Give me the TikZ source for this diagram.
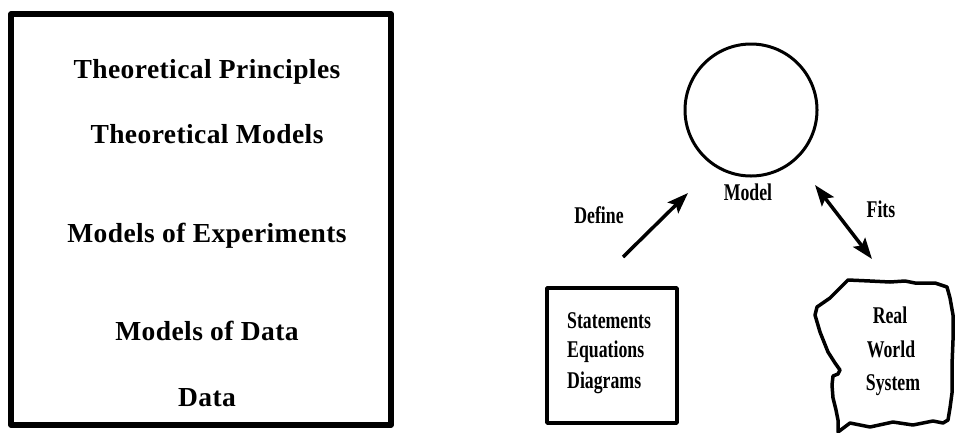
\documentclass[tikz,border=0pt]{standalone}
\usepackage{fontspec}
\setmainfont{Liberation Serif}
\newfontfamily\widebold{Liberation Serif}[LetterSpace=1.5]
\newfontfamily\narrowbold{Liberation Serif}[FakeStretch=0.74]
\usetikzlibrary{arrows.meta}

\tikzset{
  levellabel/.style={font=\widebold\bfseries\fontsize{27.5}{32}\selectfont, anchor=base, inner sep=0pt},
  smalllabel/.style={font=\narrowbold\bfseries\fontsize{24}{28}\selectfont, anchor=base, inner sep=0pt},
  heavyframe/.style={draw, line width=5.5pt, inner sep=0pt},
  thinframe/.style={draw, line width=3.5pt, inner sep=0pt},
  link/.style={line width=3.5pt, -{Stealth[length=21pt,width=15pt,inset=4pt]}},
  twoway/.style={line width=3.5pt, {Stealth[length=21pt,width=15pt,inset=4pt]}-{Stealth[length=21pt,width=15pt,inset=4pt]}},
}

\begin{document}
\begin{tikzpicture}[x=1pt, y=-1pt, line join=round]
\useasboundingbox (0,0) rectangle (955,432);

% hierarchy of models
\node[heavyframe, minimum width=380pt, minimum height=411pt] (hierarchy) at (201,219.5) {};
\node[levellabel] (principles) at (207,78) {Theoretical Principles};
\node[levellabel] (theomodels) at (207,143) {Theoretical Models};
\node[levellabel] (experiments) at (207,242) {Models of Experiments};
\node[levellabel] (datamodels) at (207,340) {Models of Data};
\node[levellabel] (data) at (207,406) {Data};

% model and its relations
\node[draw, circle, line width=3pt, minimum size=132pt, inner sep=0pt] (model) at (751,110) {};
\node[smalllabel] (modellabel) at (748,200) {Model};

\node[thinframe, minimum width=130pt, minimum height=135pt] (sed) at (612,355.5) {};
\node[smalllabel, anchor=base west] (statements) at (567,328) {Statements};
\node[smalllabel, anchor=base west] (equations) at (567,357) {Equations};
\node[smalllabel, anchor=base west] (diagrams) at (567,388) {Diagrams};

% real world system outline
\draw[line width=3.5pt] (848,280) -- (870,281) -- (890,282) -- (905,281) -- (915,283)
  -- (935,283) -- (947,287) -- (950,298) -- (953,315) -- (953,340) -- (952,365)
  -- (952,393) -- (950,408) -- (948,420) -- (943,423) -- (933,421) -- (913,425)
  -- (893,422) -- (870,427) -- (850,423) -- (838,432) -- (838,420) -- (836,410)
  -- (833,398) -- (832,385) -- (833,376) -- (838,374) -- (840,370) -- (835,363)
  -- (828,352) -- (820,332) -- (815,315) -- (817,307) -- (830,298) -- cycle;
\node[smalllabel] (real) at (890,323) {Real};
\node[smalllabel] (world) at (891,357) {World};
\node[smalllabel] (system) at (893,390) {System};

% connectors
\coordinate (definetail) at (623,257);
\coordinate (definetip) at (688,193);
\coordinate (fitstop) at (815,185);
\coordinate (fitsbottom) at (872,259);
\draw[link] (definetail) -- (definetip);
\draw[twoway] (fitstop) -- (fitsbottom);
\node[smalllabel] (define) at (599,223) {Define};
\node[smalllabel] (fits) at (881,217) {Fits};
\end{tikzpicture}
\end{document}
